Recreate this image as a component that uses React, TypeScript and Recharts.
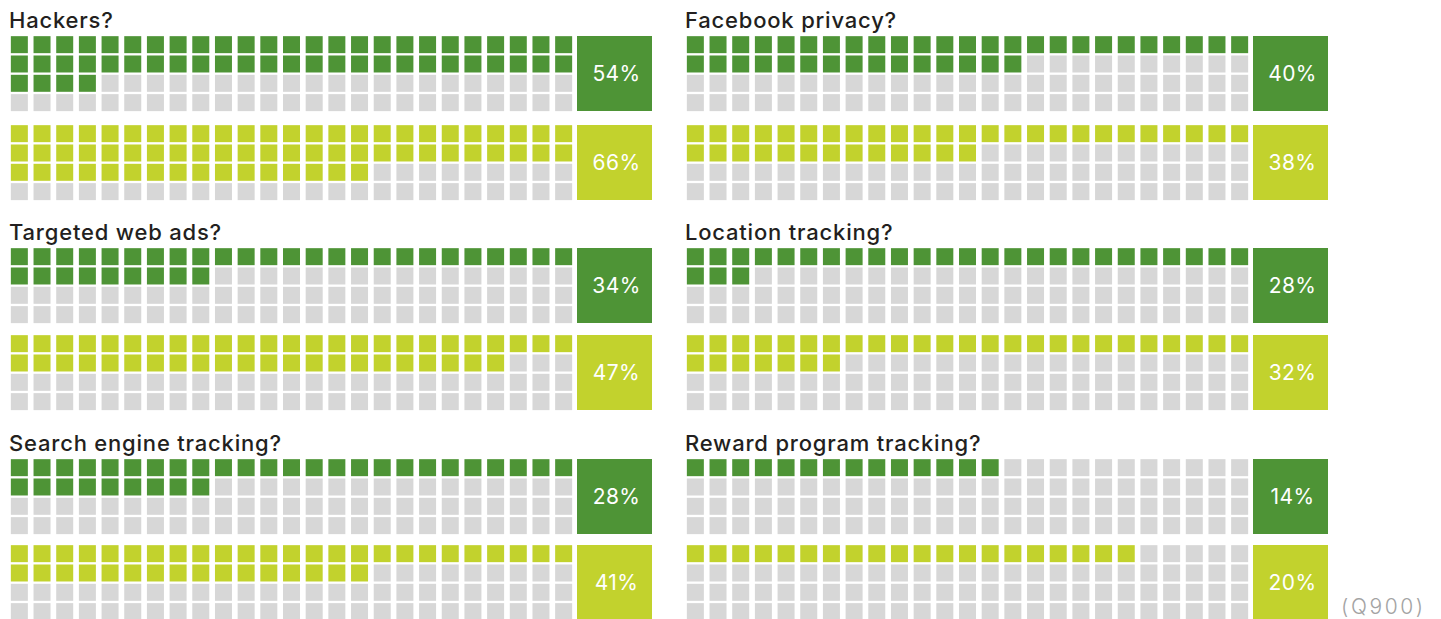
import React from 'react';
import { ScatterChart, Scatter, XAxis, YAxis } from 'recharts';

// survey questions, two waffles each
const titles = [
  'Hackers?',
  'Facebook privacy?',
  'Targeted web ads?',
  'Location tracking?',
  'Search engine tracking?',
  'Reward program tracking?',
];
const darkValues = [54, 40, 34, 28, 28, 14];
const lightValues = [66, 38, 47, 32, 41, 20];
// filled squares as drawn (search engine shows 34 squares although labelled 28%)
const darkCells = [54, 40, 34, 28, 34, 14];
const lightCells = [66, 38, 47, 32, 41, 20];
const footnote = '(Q900)';

const COLS = 25;
const ROWS = 4;
const DARK = '#4e9436';
const LIGHT = '#c2d22d';
const EMPTY = '#d7d7d7';
const CELL = 17;

const colLeft = [8, 684];
const boxLeft = [577, 1253];
const panelTop = [36, 248, 459];
const secondOffset = [89, 87, 86];

const buildCells = (filled: number, color: string) => {
  const out: { col: number; row: number; fill: string }[] = [];
  for (let row = 0; row < ROWS; row++) {
    for (let col = 0; col < COLS; col++) {
      const k = row * COLS + col;
      out.push({ col, row, fill: k < filled ? color : EMPTY });
    }
  }
  return out;
};

const Square = (props: any) => {
  const { cx, cy, payload } = props;
  return <rect x={cx - CELL / 2} y={cy - CELL / 2} width={CELL} height={CELL} fill={payload.fill} />;
};

const Waffle = ({ left, top, filled, color, label, bx }: any) => (
  <>
    <div style={{ position: 'absolute', left, top: top - 1.2 }}>
      <ScatterChart width={567} height={77.3} margin={{ top: 0, right: 0, bottom: 0, left: 0 }}>
        <XAxis dataKey="col" type="number" domain={[-0.5, COLS - 0.5]} hide />
        <YAxis dataKey="row" type="number" domain={[-0.5, ROWS - 0.5]} reversed hide />
        <Scatter data={buildCells(filled, color)} shape={Square} isAnimationActive={false} />
      </ScatterChart>
    </div>
    <div
      style={{
        position: 'absolute',
        left: bx,
        top,
        width: 75,
        height: 75,
        background: color,
        color: '#fff',
        display: 'flex',
        alignItems: 'center',
        justifyContent: 'center',
        fontFamily: 'Inter, sans-serif',
        fontSize: 21,
        letterSpacing: 0.4,
        paddingLeft: 4,
        boxSizing: 'border-box',
      }}
    >
      {label}%
    </div>
  </>
);

export default function App() {
  return (
    <div style={{ position: 'absolute', left: 0, top: 0, width: 1441, height: 619, background: '#fff', overflow: 'hidden' }}>
      {titles.map((t, i) => {
        const side = i % 2;
        const p = Math.floor(i / 2);
        const top = panelTop[p];
        return (
          <React.Fragment key={t}>
            <div
              style={{
                position: 'absolute',
                left: colLeft[side] + 1,
                top: top - 27.5,
                fontFamily: 'Inter, sans-serif',
                fontWeight: 500,
                fontSize: 22,
                lineHeight: '22px',
                letterSpacing: 0.8,
                color: '#231f20',
                whiteSpace: 'nowrap',
              }}
            >
              {t}
            </div>
            <Waffle left={colLeft[side]} top={top} filled={darkCells[i]} color={DARK} label={darkValues[i]} bx={boxLeft[side]} />
            <Waffle
              left={colLeft[side]}
              top={top + secondOffset[p]}
              filled={lightCells[i]}
              color={LIGHT}
              label={lightValues[i]}
              bx={boxLeft[side]}
            />
          </React.Fragment>
        );
      })}
      <div
        style={{
          position: 'absolute',
          left: 1341,
          top: 596,
          fontFamily: 'Inter, sans-serif',
          fontWeight: 300,
          fontSize: 21,
          lineHeight: '21px',
          letterSpacing: 2.6,
          color: '#a3a3a3',
        }}
      >
        {footnote}
      </div>
    </div>
  );
}
